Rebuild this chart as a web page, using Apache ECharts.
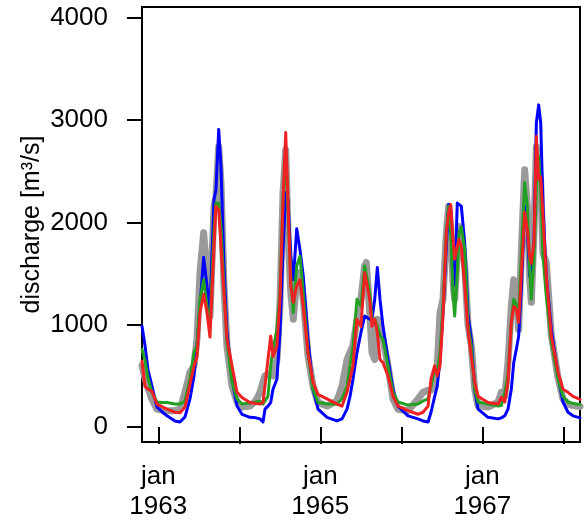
<!DOCTYPE html>
<html>
<head>
<meta charset="utf-8">
<script src="https://cdn.jsdelivr.net/npm/echarts@6/dist/echarts.min.js"></script>
<style>html,body{margin:0;padding:0;background:#fff}#c{width:586px;height:522px}</style>
</head>
<body>
<div id="c"></div>
<script>
// time in decimal years
const time = [1962.799,1962.836,1962.873,1962.922,1962.984,1963.046,1963.107,1963.206,1963.268,1963.330,
1963.391,1963.441,1963.478,1963.515,1963.560,1963.601,1963.638,1963.688,1963.712,1963.746,
1963.774,1963.811,1963.848,1963.910,1963.972,1964.033,1964.132,1964.206,1964.256,1964.293,
1964.317,1964.354,1964.388,1964.416,1964.465,1964.502,1964.540,1964.573,1964.601,1964.635,
1964.667,1964.709,1964.749,1964.790,1964.848,1964.910,1964.972,1965.083,1965.206,1965.268,
1965.330,1965.367,1965.404,1965.453,1965.502,1965.548,1965.568,1965.610,1965.638,1965.672,
1965.704,1965.737,1965.774,1965.836,1965.898,1965.959,1966.083,1966.206,1966.268,1966.330,
1966.367,1966.412,1966.444,1966.478,1966.515,1966.556,1966.585,1966.610,1966.638,1966.659,
1966.691,1966.712,1966.741,1966.783,1966.823,1966.864,1966.906,1966.947,1967.070,1967.194,
1967.235,1967.277,1967.317,1967.358,1967.388,1967.420,1967.449,1967.481,1967.523,1967.556,
1967.585,1967.605,1967.638,1967.667,1967.696,1967.721,1967.749,1967.790,1967.852,1967.935,
1967.996,1968.058,1968.120,1968.206];

const observed = [600,480,380,270,175,165,160,160,175,340,
535,600,860,1510,1900,1510,1085,2160,2250,2740,
2390,1380,790,400,245,195,205,260,340,440,
500,520,520,500,660,1200,2290,2710,1900,1315,
1055,1440,1510,1250,700,400,240,205,255,400,
660,730,800,1050,1250,1575,1610,1120,730,660,
1055,985,860,600,275,175,160,275,340,360,
360,430,600,1120,1250,1900,2160,1950,1415,1250,
1700,1960,1850,1575,1000,800,370,210,195,245,
340,300,630,1180,1440,1250,955,1700,2515,2150,
1450,1220,1900,2740,2600,2400,1700,1610,900,480,
275,225,210,200];

const modelBlue = [985,800,560,400,195,150,110,60,50,100,
275,500,790,1180,1660,1380,1150,2225,2320,2910,
2550,1575,925,470,205,125,95,90,80,50,
175,205,240,370,470,925,1735,2290,2225,1670,
1440,1940,1735,1475,860,370,175,95,60,80,
175,300,470,730,925,1085,1100,1055,1055,1250,
1560,1250,985,660,370,205,110,80,60,50,
145,300,400,660,1120,1770,2175,2125,1380,1400,
2190,2200,2160,1800,1100,860,370,175,95,80,
90,110,175,370,630,760,890,1345,2160,1930,
1475,1500,1770,2975,3150,2975,2160,1475,955,500,
245,145,110,90];

const modelGreen = [760,650,480,340,245,240,240,225,225,255,
470,730,790,1250,1440,1180,985,1930,2190,2190,
1960,1380,830,440,275,225,235,245,255,225,
240,300,600,760,955,1315,2225,2710,2125,1475,
1120,1575,1670,1315,730,370,240,225,225,275,
400,600,790,1250,1180,1575,1590,1315,1055,1055,
985,900,860,600,340,245,215,225,255,275,
400,565,530,730,1180,1900,2160,1900,1315,1085,
1510,1900,1960,1735,1000,790,370,245,225,205,
210,340,500,1025,1250,1200,1100,1670,2390,2150,
1540,1250,1650,2350,2645,2320,1670,1280,830,470,
300,245,230,220];

const modelRed = [645,400,370,350,225,200,175,145,140,195,
420,595,690,1120,1300,1120,880,1770,2160,2125,
1770,1315,860,600,340,290,240,230,225,240,
255,660,890,690,790,1250,2225,2880,2225,1380,
1220,1380,1440,1180,730,440,320,275,225,205,
340,470,600,1055,985,1510,1525,1250,985,1055,
925,660,630,500,300,205,160,125,145,205,
470,600,500,600,1085,1900,2100,2175,1835,1640,
1770,1835,1770,1380,950,690,440,300,240,225,
290,245,440,1025,1180,1150,1025,1475,2100,1930,
1670,1600,1800,2840,2420,2450,2060,1475,890,535,
370,340,300,270];

const yTicks = [0,1000,2000,3000,4000];
const xTicks = [1963,1964,1965,1966,1967,1968];
const xLabelYears = [1963,1965,1967];

const zip = (v) => time.map((t,i)=>[t,v[i]]);
const font = "'Liberation Sans', Arial, sans-serif";

const chart = echarts.init(document.getElementById('c'), null, {renderer:'canvas'});
const mk = (name, data, color, w) => ({
  name, type:'line', data: zip(data), showSymbol:false, symbol:'none',
  lineStyle:{color, width:w, join:'round', cap:'round'}, itemStyle:{color},
  animation:false, z: 2
});
chart.setOption({
  animation:false,
  grid:{left:142, right:6, top:7, bottom:79, show:true, borderColor:'#000', borderWidth:2, backgroundColor:'transparent'},
  xAxis:{
    type:'value', min:1962.799, max:1968.206,
    axisLine:{show:false},
    splitLine:{show:false},
    axisTick:{show:true, length:17, lineStyle:{color:'#000', width:2}, customValues: xTicks},
    axisLabel:{show:true, customValues: xLabelYears, formatter:(v)=>'jan\n'+String(Math.round(v)), color:'#000',
      fontFamily:font, fontSize:26, lineHeight:30, margin:20}
  },
  yAxis:{
    type:'value', min:-146, max:4107,
    name:'discharge [m³/s]', nameLocation:'middle', nameGap:97, nameMoveOverlap:false,
    nameTextStyle:{color:'#000', fontFamily:font, fontSize:25},
    axisLine:{show:false},
    splitLine:{show:false},
    axisTick:{show:true, length:15, lineStyle:{color:'#000', width:2}, customValues: yTicks},
    axisLabel:{show:true, customValues: yTicks, formatter:(v)=>String(Math.round(v)), color:'#000', fontFamily:font, fontSize:26, margin:34}
  },
  series:[
    mk('observed', observed, '#9a9a9a', 7),
    mk('blue', modelBlue, '#0000ff', 3),
    mk('green', modelGreen, '#22a022', 3),
    mk('red', modelRed, '#ee2222', 3)
  ]
});
</script>
</body>
</html>
